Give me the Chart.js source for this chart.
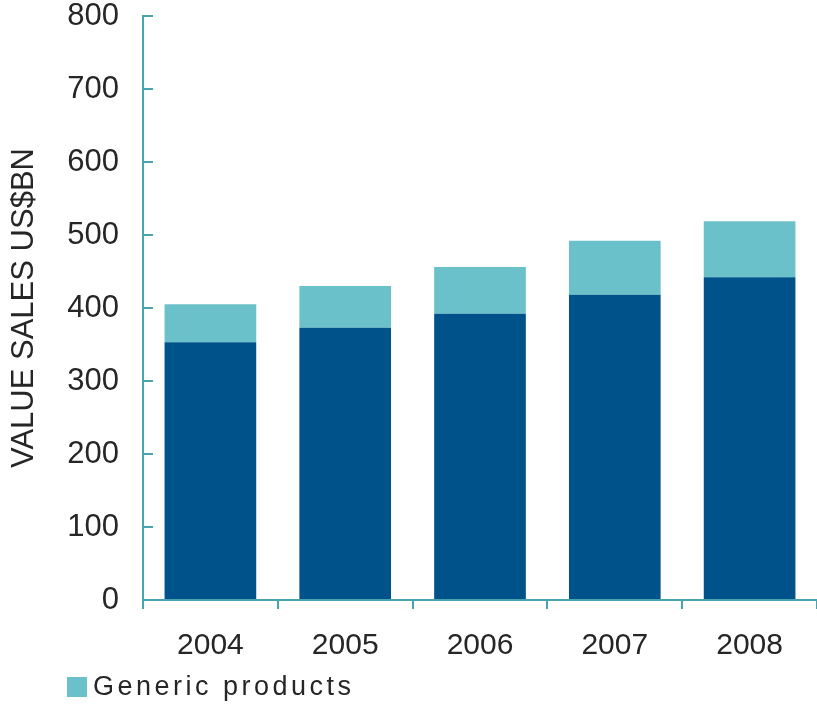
<!DOCTYPE html>
<html>
<head>
<meta charset="utf-8">
<script src="https://cdn.jsdelivr.net/npm/chart.js@4/dist/chart.umd.min.js"></script>
<style>
  html, body { margin: 0; padding: 0; background: #fff; }
  #wrap { width: 817px; height: 707px; }
</style>
</head>
<body>
<div id="wrap"><canvas id="chart"></canvas></div>
<script>
const years = ["2004", "2005", "2006", "2007", "2008"];
const brandedSales = [353, 373, 392, 418, 442];
const genericSales = [52, 57, 64, 74, 77];
const yTicks = [0, 100, 200, 300, 400, 500, 600, 700, 800];

const darkBlue = "#00528a";
const lightTeal = "#6bc1c9";
const axisColor = "#4aa4ae";
const textColor = "#262626";
const fontFamily = "'Liberation Sans', Arial, sans-serif";

// single legend entry in the bottom-left corner (only the generic series is keyed)
const cornerLegend = {
  id: "cornerLegend",
  afterDraw(chart) {
    const ctx = chart.ctx;
    const ds = chart.data.datasets.find(d => d.showInLegend);
    if (!ds) return;
    const x = 67, y = 677, box = 20;
    ctx.save();
    ctx.fillStyle = ds.backgroundColor;
    ctx.fillRect(x, y, box, box);
    ctx.fillStyle = textColor;
    ctx.font = "27px " + fontFamily;
    ctx.textBaseline = "middle";
    ctx.letterSpacing = "3.5px";
    ctx.fillText(ds.label, x + box + 6, y + box / 2 + 1);
    ctx.restore();
  }
};

new Chart(document.getElementById("chart"), {
  type: "bar",
  data: {
    labels: years,
    datasets: [
      {
        label: "Branded products",
        data: brandedSales,
        backgroundColor: darkBlue,
        stack: "sales"
      },
      {
        label: "Generic products",
        data: genericSales,
        backgroundColor: lightTeal,
        stack: "sales",
        showInLegend: true
      }
    ]
  },
  options: {
    responsive: true,
    maintainAspectRatio: false,
    animation: false,
    layout: { padding: 0 },
    datasets: {
      bar: { categoryPercentage: 1, barPercentage: 0.68 }
    },
    plugins: {
      legend: { display: false },
      tooltip: { enabled: false }
    },
    scales: {
      x: {
        stacked: true,
        border: { color: axisColor, width: 2 },
        grid: {
          drawOnChartArea: false,
          color: axisColor,
          lineWidth: 2,
          tickLength: 9,
          offset: true
        },
        ticks: {
          color: textColor,
          padding: 19,
          font: { family: fontFamily, size: 30 }
        },
        afterFit(scale) { scale.height = 107; }
      },
      y: {
        stacked: true,
        min: 0,
        max: 800,
        border: { color: axisColor, width: 2 },
        grid: {
          drawOnChartArea: false,
          color: axisColor,
          lineWidth: 2,
          tickLength: -10
        },
        afterBuildTicks(scale) {
          scale.ticks = yTicks.map(v => ({ value: v }));
        },
        ticks: {
          color: textColor,
          padding: 34,
          font: { family: fontFamily, size: 31 }
        },
        title: {
          display: true,
          text: "VALUE SALES US$BN",
          color: textColor,
          padding: { top: 6, bottom: 0 },
          font: { family: fontFamily, size: 31 }
        },
        afterFit(scale) {
          scale.width = 143;
          // tick padding would otherwise push the plot area down
          scale.paddingTop = 16;
          scale.paddingBottom = 0;
        }
      }
    }
  },
  plugins: [cornerLegend]
});
</script>
</body>
</html>
